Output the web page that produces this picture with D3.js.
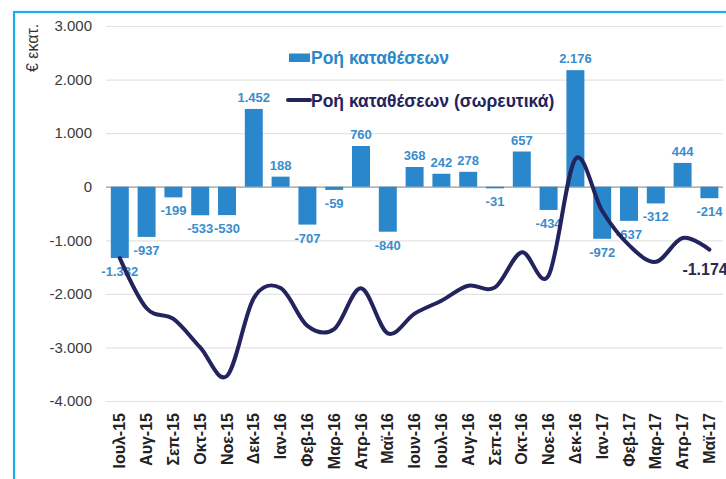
<!DOCTYPE html>
<html>
<head>
<meta charset="utf-8">
<script src="https://cdn.jsdelivr.net/npm/d3@7"></script>
<style>
  html, body { margin: 0; padding: 0; background: #fff; }
  svg { display: block; font-family: "Liberation Sans", Arial, sans-serif; }
</style>
</head>
<body>
<div id="chart"></div>
<script>
// Months (x categories)
const months = ["Ιουλ-15", "Αυγ-15", "Σεπ-15", "Οκτ-15", "Νοε-15", "Δεκ-15", "Ιαν-16", "Φεβ-16",
    "Μαρ-16", "Απρ-16", "Μαϊ-16", "Ιουν-16", "Ιουλ-16", "Αυγ-16", "Σεπ-16", "Οκτ-16", "Νοε-16",
    "Δεκ-16", "Ιαν-17", "Φεβ-17", "Μαρ-17", "Απρ-17", "Μαϊ-17"];

// Monthly deposit flow (bars)
const flows = [-1332, -937, -199, -533, -530, 1452, 188, -707, -59, 760, -840, 368, 242, 278,
    -31, 657, -434, 2176, -972, -637, -312, 444, -214];

// Cumulative flow (line)
const cumulative = [-1332, -2269, -2468, -3001, -3531, -2079, -1891, -2598, -2657, -1897, -2737,
    -2369, -2127, -1849, -1880, -1223, -1657, 519, -453, -1090, -1402, -958, -1174];

// Y ticks
const yTicks = [3000, 2000, 1000, 0, -1000, -2000, -3000, -4000];

const barColor = "#2a87cb";
const labelColor = "#3a8dcc";
const lineColor = "#23235e";

const W = 726, H = 479;

const locale = d3.formatLocale({ decimal: ",", thousands: ".", grouping: [3], currency: ["€", ""], minus: "-" });
const fmt = locale.format(",");

const svg = d3.select("#chart").append("svg")
    .attr("width", W)
    .attr("height", H);

// frame
svg.append("rect")
    .attr("x", 14).attr("y", 12)
    .attr("width", W + 20).attr("height", H + 20)
    .attr("fill", "#fff")
    .attr("stroke", "#1aaeea")
    .attr("stroke-width", 2.2);

// Scales
const x = d3.scaleBand()
    .domain(months)
    .range([106.4, 722.8])
    .paddingInner(0.33)
    .paddingOuter(0.165);

const y = d3.scaleLinear()
    .domain([-4000, 3000])
    .range([401, 26]);

// Gridlines
svg.append("g")
    .attr("class", "grid")
    .attr("transform", `translate(106,0)`)
    .call(d3.axisLeft(y).tickValues(yTicks).tickSize(-617).tickFormat(""))
    .call(g => g.select(".domain").remove())
    .call(g => g.selectAll("line")
        .attr("stroke", d => d === 0 ? "#9a9a9a" : "#e3e3e3")
        .attr("stroke-width", d => d === 0 ? 1.3 : 1.2));

// Y axis labels
svg.append("g")
    .attr("class", "y-axis")
    .attr("transform", `translate(106,0)`)
    .call(d3.axisLeft(y).tickValues(yTicks).tickSize(0).tickPadding(14).tickFormat(fmt))
    .call(g => g.select(".domain").remove())
    .selectAll("text")
    .attr("fill", "#3a3a3a")
    .style("font-size", "15px");

// Y axis title
svg.append("text")
    .attr("transform", "translate(38,72) rotate(-90)")
    .attr("text-anchor", "start")
    .attr("fill", "#333")
    .style("font-size", "16px")
    .text("€ εκατ.");

// X axis labels
svg.append("g")
    .attr("class", "x-axis")
    .attr("transform", `translate(0,401)`)
    .call(d3.axisBottom(x).tickSize(0))
    .call(g => g.select(".domain").remove())
    .selectAll("text")
    .attr("transform", "rotate(-90)")
    .attr("text-anchor", "end")
    .attr("x", -12)
    .attr("y", 0)
    .attr("dy", "0.35em")
    .attr("fill", "#222")
    .style("font-size", "16px")
    .style("font-weight", "bold");

// Bars
svg.selectAll(".bar")
    .data(flows)
    .enter()
    .append("rect")
    .attr("class", "bar")
    .attr("x", (d, i) => x(months[i]))
    .attr("y", d => y(Math.max(0, d)))
    .attr("width", x.bandwidth())
    .attr("height", d => Math.abs(y(d) - y(0)))
    .attr("fill", barColor);

// Bar labels
svg.selectAll(".label")
    .data(flows)
    .enter()
    .append("text")
    .attr("class", "label")
    .attr("x", (d, i) => x(months[i]) + x.bandwidth() / 2)
    .attr("y", d => d >= 0 ? y(d) - 7 : y(d) + 18)
    .attr("text-anchor", "middle")
    .attr("fill", labelColor)
    .style("font-size", "13px")
    .style("font-weight", "bold")
    .text(d => fmt(d));

// Cumulative line
const line = d3.line()
    .x((d, i) => x(months[i]) + x.bandwidth() / 2)
    .y(d => y(d))
    .curve(d3.curveCatmullRom.alpha(0));

svg.append("path")
    .datum(cumulative)
    .attr("d", line)
    .attr("fill", "none")
    .attr("stroke", lineColor)
    .attr("stroke-width", 4)
    .attr("stroke-linecap", "round")
    .attr("stroke-linejoin", "round");

// Last value annotation
const lastI = cumulative.length - 1;
svg.append("text")
    .attr("x", x(months[lastI]) + x.bandwidth() / 2 - 27)
    .attr("y", y(cumulative[lastI]) + 25)
    .attr("fill", "#2a2a50")
    .style("font-size", "16px")
    .style("font-weight", "bold")
    .text(fmt(cumulative[lastI]));

// Legend
const legend = svg.append("g").attr("class", "legend");
legend.append("rect")
    .attr("x", 289).attr("y", 53.5)
    .attr("width", 21).attr("height", 8.5)
    .attr("fill", barColor);
legend.append("text")
    .attr("x", 311).attr("y", 64)
    .attr("fill", barColor)
    .style("font-size", "17.5px")
    .style("font-weight", "bold")
    .text("Ροή καταθέσεων");
legend.append("line")
    .attr("x1", 288).attr("x2", 310)
    .attr("y1", 100).attr("y2", 100)
    .attr("stroke", lineColor)
    .attr("stroke-width", 4)
    .attr("stroke-linecap", "round");
legend.append("text")
    .attr("x", 311).attr("y", 106.5)
    .attr("fill", lineColor)
    .style("font-size", "17.5px")
    .style("font-weight", "bold")
    .text("Ροή καταθέσεων (σωρευτικά)");
</script>
</body>
</html>
